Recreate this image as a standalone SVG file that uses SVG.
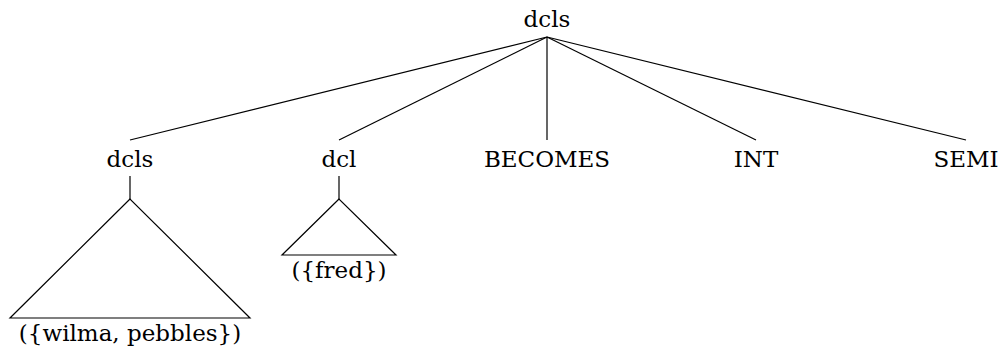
<svg xmlns="http://www.w3.org/2000/svg" width="1000" height="354" viewBox="0 0 1000 354">
<style>
text{font-family:'DejaVu Serif',serif;font-size:23px;fill:#000;text-anchor:middle}
line,polygon{stroke:#000;stroke-width:1.2;fill:none}
</style>
<rect width="1000" height="354" fill="#fff"/>
<g id="connectors">
<line x1="547" y1="37" x2="130" y2="140"/>
<line x1="547" y1="37" x2="339" y2="140"/>
<line x1="547" y1="37" x2="547" y2="140"/>
<line x1="547" y1="37" x2="756" y2="140"/>
<line x1="547" y1="37" x2="966" y2="140"/>
</g>
<g id="root"><text x="547" y="27">dcls</text></g>
<g id="dcls2">
<text x="130" y="167">dcls</text>
<line x1="130" y1="176" x2="130" y2="199"/>
<polygon points="130,199 10,318 250,318"/>
<text x="130" y="341">({wilma, pebbles})</text>
</g>
<g id="dcl">
<text x="339" y="167">dcl</text>
<line x1="339" y1="176" x2="339" y2="199"/>
<polygon points="339,199 282,255 396,255"/>
<text x="339" y="278">({fred})</text>
</g>
<g id="becomes"><text x="547" y="167">BECOMES</text></g>
<g id="int"><text x="756" y="167">INT</text></g>
<g id="semi"><text x="966" y="167">SEMI</text></g>
</svg>
